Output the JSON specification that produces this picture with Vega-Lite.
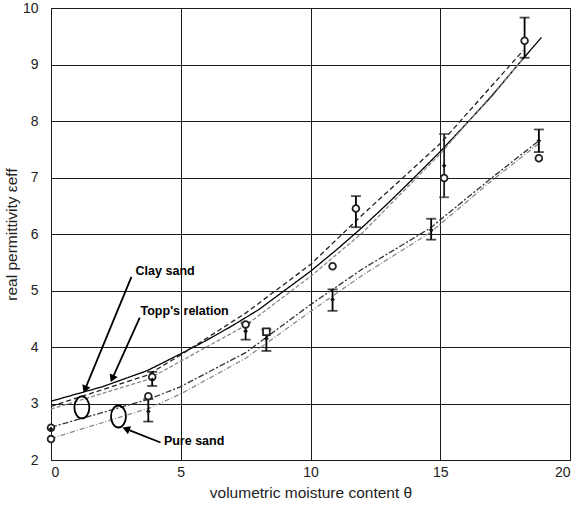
{
  "$schema": "https://vega.github.io/schema/vega-lite/v6.json",
  "autosize": "none",
  "padding": {"left": 51, "top": 8, "right": 12, "bottom": 47},
  "width": 519,
  "height": 452,
  "background": "white",
  "config": {
    "font": "Liberation Sans",
    "view": {"stroke": "#333", "strokeWidth": 1},
    "axis": {
      "grid": true, "gridColor": "#1a1a1a", "gridWidth": 1, "gridOpacity": 1,
      "domain": false, "ticks": false,
      "labelFont": "Liberation Sans", "labelFontSize": 14, "labelColor": "#222",
      "titleFont": "Liberation Sans", "titleFontSize": 15.5, "titleFontWeight": "normal", "titleColor": "#222"
    }
  },
  "datasets": {
    "lines": [
      {"s": "Topp", "x": 0, "y": 3.04}, {"s": "Topp", "x": 2, "y": 3.30}, {"s": "Topp", "x": 3.7, "y": 3.58},
      {"s": "Topp", "x": 5, "y": 3.88}, {"s": "Topp", "x": 6, "y": 4.12}, {"s": "Topp", "x": 7, "y": 4.38},
      {"s": "Topp", "x": 8, "y": 4.66}, {"s": "Topp", "x": 9, "y": 5.0}, {"s": "Topp", "x": 10, "y": 5.34},
      {"s": "Topp", "x": 11, "y": 5.72}, {"s": "Topp", "x": 12, "y": 6.12}, {"s": "Topp", "x": 13, "y": 6.55},
      {"s": "Topp", "x": 14, "y": 7.0}, {"s": "Topp", "x": 15, "y": 7.46}, {"s": "Topp", "x": 16, "y": 7.95},
      {"s": "Topp", "x": 17, "y": 8.45}, {"s": "Topp", "x": 18, "y": 9.0}, {"s": "Topp", "x": 18.9, "y": 9.48},
      {"s": "clay1", "x": 0, "y": 2.95}, {"s": "clay1", "x": 3.7, "y": 3.5}, {"s": "clay1", "x": 5, "y": 3.86},
      {"s": "clay1", "x": 7.5, "y": 4.6}, {"s": "clay1", "x": 10, "y": 5.46}, {"s": "clay1", "x": 12, "y": 6.34},
      {"s": "clay1", "x": 15, "y": 7.6}, {"s": "clay1", "x": 18.2, "y": 9.25},
      {"s": "clay2", "x": 0, "y": 2.9}, {"s": "clay2", "x": 3.7, "y": 3.42}, {"s": "clay2", "x": 5, "y": 3.75},
      {"s": "clay2", "x": 7.5, "y": 4.38}, {"s": "clay2", "x": 10, "y": 5.25}, {"s": "clay2", "x": 12, "y": 6.02},
      {"s": "clay2", "x": 15, "y": 7.42}, {"s": "clay2", "x": 18.2, "y": 9.1},
      {"s": "sand1", "x": 0, "y": 2.58}, {"s": "sand1", "x": 3.8, "y": 3.08}, {"s": "sand1", "x": 5, "y": 3.3},
      {"s": "sand1", "x": 7.5, "y": 3.9}, {"s": "sand1", "x": 10, "y": 4.75}, {"s": "sand1", "x": 12, "y": 5.38},
      {"s": "sand1", "x": 14.6, "y": 6.1}, {"s": "sand1", "x": 17, "y": 7.0}, {"s": "sand1", "x": 18.8, "y": 7.65},
      {"s": "sand2", "x": 0, "y": 2.38}, {"s": "sand2", "x": 3.8, "y": 2.92}, {"s": "sand2", "x": 5, "y": 3.17},
      {"s": "sand2", "x": 7.5, "y": 3.8}, {"s": "sand2", "x": 10, "y": 4.63}, {"s": "sand2", "x": 12, "y": 5.27},
      {"s": "sand2", "x": 14.6, "y": 6.02}, {"s": "sand2", "x": 17, "y": 6.95}, {"s": "sand2", "x": 18.8, "y": 7.6}
    ],
    "pts": [
      {"k": "open", "x": 0, "y": 2.57}, {"k": "open", "x": 0, "y": 2.37}, {"k": "open", "x": 3.9, "y": 3.47},
      {"k": "open", "x": 3.75, "y": 3.13}, {"k": "open", "x": 7.5, "y": 4.40}, {"k": "open", "x": 10.85, "y": 5.43},
      {"k": "open", "x": 11.75, "y": 6.45}, {"k": "open", "x": 15.15, "y": 6.99}, {"k": "open", "x": 18.25, "y": 9.42},
      {"k": "open", "x": 18.8, "y": 7.34}, {"k": "square", "x": 8.3, "y": 4.27},
      {"k": "filled", "x": 0, "y": 2.55}, {"k": "filled", "x": 3.75, "y": 2.86}, {"k": "filled", "x": 7.5, "y": 4.28},
      {"k": "filled", "x": 8.3, "y": 4.15}, {"k": "filled", "x": 10.85, "y": 4.84}, {"k": "filled", "x": 14.65, "y": 6.07},
      {"k": "filled", "x": 15.15, "y": 7.21}, {"k": "filled", "x": 18.8, "y": 7.65}, {"k": "filled", "x": 3.9, "y": 3.42}
    ],
    "err": [
      {"g": "a", "x": 3.9, "lo": 3.31, "hi": 3.56}, {"g": "a", "x": 3.75, "lo": 2.68, "hi": 3.08},
      {"g": "a", "x": 7.5, "lo": 4.13, "hi": 4.43}, {"g": "a", "x": 8.3, "lo": 3.93, "hi": 4.31},
      {"g": "a", "x": 10.85, "lo": 4.64, "hi": 5.02}, {"g": "a", "x": 11.75, "lo": 6.12, "hi": 6.67},
      {"g": "a", "x": 14.65, "lo": 5.90, "hi": 6.27}, {"g": "b", "x": 15.15, "lo": 6.65, "hi": 7.77},
      {"g": "a", "x": 18.25, "lo": 9.12, "hi": 9.83}, {"g": "a", "x": 18.8, "lo": 7.45, "hi": 7.85}
    ],
    "notes": [
      {"x": 3.26, "y": 5.34, "t": "Clay sand"},
      {"x": 3.45, "y": 4.64, "t": "Topp's relation"},
      {"x": 4.35, "y": 2.34, "t": "Pure sand"}
    ],
    "arrows": [
      {"a": "clay", "o": 0, "x": 3.1, "y": 5.24}, {"a": "clay", "o": 1, "x": 1.31, "y": 3.25},
      {"a": "topp", "o": 0, "x": 3.42, "y": 4.52}, {"a": "topp", "o": 1, "x": 2.36, "y": 3.44},
      {"a": "pure", "o": 0, "x": 4.22, "y": 2.31}, {"a": "pure", "o": 1, "x": 2.89, "y": 2.55}
    ],
    "ellipses": [
      {"e": "clay", "x": 1.19, "y": 2.93},
      {"e": "pure", "x": 2.6, "y": 2.77}
    ]
  },
  "layer": [
    {
      "data": {"name": "lines"},
      "mark": {"type": "line", "strokeWidth": 1.3, "clip": true},
      "encoding": {
        "x": {"field": "x", "type": "quantitative", "scale": {"domain": [0, 20]},
              "axis": {"values": [0, 5, 10, 15, 20], "format": "d", "title": "volumetric moisture content θ", "labelPadding": 5, "titlePadding": 6}},
        "y": {"field": "y", "type": "quantitative", "scale": {"domain": [2, 10]},
              "axis": {"values": [2, 3, 4, 5, 6, 7, 8, 9, 10], "format": "d", "title": "real permittivity εeff", "labelPadding": 13, "titlePadding": 3}},
        "detail": {"field": "s"},
        "color": {"field": "s", "type": "nominal", "legend": null,
                  "scale": {"domain": ["Topp", "clay1", "clay2", "sand1", "sand2"], "range": ["#000000", "#222222", "#8a8a8a", "#333333", "#8a8a8a"]}},
        "strokeDash": {"field": "s", "type": "nominal", "legend": null,
                  "scale": {"domain": ["Topp", "clay1", "clay2", "sand1", "sand2"], "range": [[1, 0], [5, 3], [4, 2], [6, 2, 2, 2], [5, 2, 1, 2]]}},
        "strokeWidth": {"field": "s", "type": "nominal", "legend": null,
                  "scale": {"domain": ["Topp", "clay1", "clay2", "sand1", "sand2"], "range": [1.8, 1.3, 1.3, 1.3, 1.3]}}
      }
    },
    {
      "data": {"name": "err"},
      "mark": {"type": "rule", "strokeWidth": 1.8},
      "encoding": {
        "x": {"field": "x", "type": "quantitative"},
        "y": {"field": "lo", "type": "quantitative"},
        "y2": {"field": "hi"},
        "color": {"field": "g", "type": "nominal", "legend": null, "scale": {"domain": ["a", "b"], "range": ["#111111", "#9a9a9a"]}}
      }
    },
    {
      "data": {"name": "err"},
      "mark": {"type": "tick", "orient": "horizontal", "size": 10, "thickness": 1.8},
      "encoding": {
        "x": {"field": "x", "type": "quantitative"},
        "y": {"field": "lo", "type": "quantitative"},
        "color": {"field": "g", "type": "nominal", "legend": null, "scale": {"domain": ["a", "b"], "range": ["#111111", "#9a9a9a"]}}
      }
    },
    {
      "data": {"name": "err"},
      "mark": {"type": "tick", "orient": "horizontal", "size": 10, "thickness": 1.8},
      "encoding": {
        "x": {"field": "x", "type": "quantitative"},
        "y": {"field": "hi", "type": "quantitative"},
        "color": {"field": "g", "type": "nominal", "legend": null, "scale": {"domain": ["a", "b"], "range": ["#111111", "#9a9a9a"]}}
      }
    },
    {
      "data": {"name": "pts"},
      "transform": [{"filter": "datum.k === 'open'"}],
      "mark": {"type": "point", "shape": "circle", "size": 45, "filled": true, "fill": "white", "stroke": "#222", "strokeWidth": 1.8, "opacity": 1},
      "encoding": {"x": {"field": "x", "type": "quantitative"}, "y": {"field": "y", "type": "quantitative"}}
    },
    {
      "data": {"name": "pts"},
      "transform": [{"filter": "datum.k === 'square'"}],
      "mark": {"type": "point", "shape": "square", "size": 45, "filled": true, "fill": "white", "stroke": "#222", "strokeWidth": 1.8, "opacity": 1},
      "encoding": {"x": {"field": "x", "type": "quantitative"}, "y": {"field": "y", "type": "quantitative"}}
    },
    {
      "data": {"name": "pts"},
      "transform": [{"filter": "datum.k === 'filled'"}],
      "mark": {"type": "point", "shape": "diamond", "size": 22, "filled": true, "color": "#111", "opacity": 1},
      "encoding": {"x": {"field": "x", "type": "quantitative"}, "y": {"field": "y", "type": "quantitative"}}
    },
    {
      "data": {"name": "arrows"},
      "mark": {"type": "line", "color": "#000", "strokeWidth": 1.8},
      "encoding": {
        "x": {"field": "x", "type": "quantitative"},
        "y": {"field": "y", "type": "quantitative"},
        "detail": {"field": "a"},
        "order": {"field": "o"}
      }
    },
    {
      "data": {"name": "arrows"},
      "transform": [{"filter": "datum.a === 'clay' && datum.o === 1"}],
      "mark": {"type": "point", "shape": "triangle-up", "size": 75, "filled": true, "color": "#000", "opacity": 1, "angle": 201},
      "encoding": {"x": {"field": "x", "type": "quantitative"}, "y": {"field": "y", "type": "quantitative"}}
    },
    {
      "data": {"name": "arrows"},
      "transform": [{"filter": "datum.a === 'topp' && datum.o === 1"}],
      "mark": {"type": "point", "shape": "triangle-up", "size": 75, "filled": true, "color": "#000", "opacity": 1, "angle": 203},
      "encoding": {"x": {"field": "x", "type": "quantitative"}, "y": {"field": "y", "type": "quantitative"}}
    },
    {
      "data": {"name": "arrows"},
      "transform": [{"filter": "datum.a === 'pure' && datum.o === 1"}],
      "mark": {"type": "point", "shape": "triangle-up", "size": 75, "filled": true, "color": "#000", "opacity": 1, "angle": 291},
      "encoding": {"x": {"field": "x", "type": "quantitative"}, "y": {"field": "y", "type": "quantitative"}}
    },
    {
      "data": {"name": "ellipses"},
      "mark": {"type": "point", "shape": "M -0.68 0 A 0.68 1 0 1 1 0.68 0 A 0.68 1 0 1 1 -0.68 0 Z", "size": 484, "filled": false, "stroke": "#000", "strokeWidth": 1.8, "opacity": 1},
      "encoding": {"x": {"field": "x", "type": "quantitative"}, "y": {"field": "y", "type": "quantitative"}}
    },
    {
      "data": {"name": "notes"},
      "mark": {"type": "text", "align": "left", "baseline": "middle", "font": "Liberation Sans", "fontWeight": "bold", "fontSize": 12.5, "color": "#000"},
      "encoding": {"x": {"field": "x", "type": "quantitative"}, "y": {"field": "y", "type": "quantitative"}, "text": {"field": "t"}}
    }
  ]
}
